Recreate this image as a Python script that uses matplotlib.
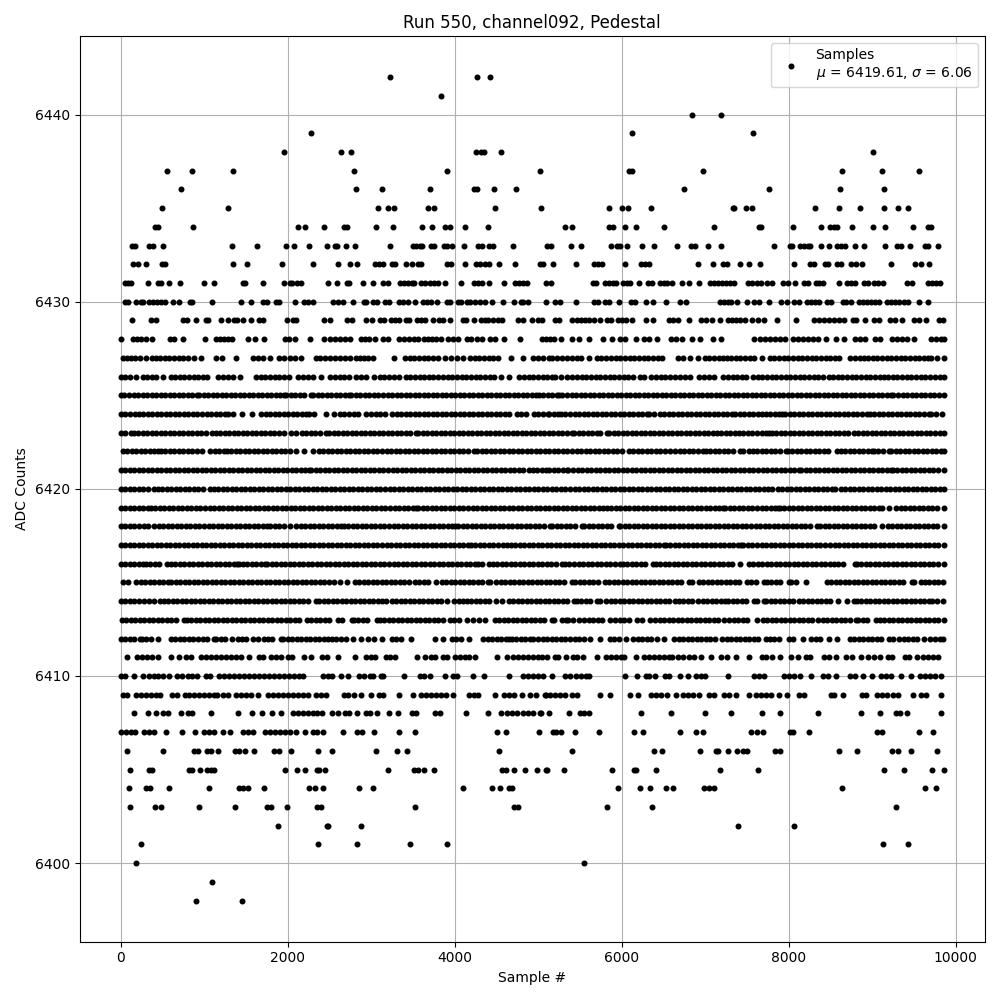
"""
Pedestal scatter for run 550, channel092.
Sample positions read off the plot, one list per ADC level.
"""
import matplotlib
matplotlib.use("Agg")
import matplotlib.pyplot as plt
import matplotlib.ticker as mticker

s_6442 = [3224, 4268, 4424]
s_6441 = [3836]
s_6440 = [6848, 7196]
s_6439 = [2276, 6128, 7580]
s_6438 = [1952, 2636, 2756, 4256, 4316, 4356, 4556, 9008]
s_6437 = [560, 860, 1340, 2792, 3908, 5024, 6088, 6120, 6980, 8636, 9116, 9560]
s_6436 = [728, 2816, 3128, 3704, 4228, 4272, 4472, 4736, 6752, 7760, 8612, 9140]
s_6435 = [500, 1280, 3080, 3200, 3272, 3680, 3752, 4484, 5040, 5852, 6008, 6080, 6356, 7340, 7352,
          7496, 7568, 8312, 8600, 8852, 9140, 9308, 9428]
s_6434 = [412, 444, 872, 2120, 2204, 2432, 2680, 2712, 3056, 3260, 3608, 3728, 3884, 3944, 4124, 4400,
          5324, 5408, 5852, 5900, 6044, 6176, 6512, 7112, 7640, 7668, 8048, 8384, 8492, 8540, 8576, 8756,
          9008, 9152, 9488, 9668, 9712]
s_6433 = [140, 172, 344, 392, 512, 1328, 1628, 1976, 2072, 2252, 2468, 2564, 2596, 2696, 2804, 3224,
          3500, 3540, 3588, 3612, 3716, 3748, 3872, 3908, 3968, 4108, 4280, 4324, 4412, 4460, 4700, 5108,
          5156, 5396, 5516, 5876, 5948, 5980, 6068, 6248, 6392, 6668, 6836, 6880, 7040, 7196, 7820, 8012,
          8036, 8132, 8180, 8228, 8260, 8384, 8480, 8576, 8624, 8672, 8792, 8908, 9152, 9296, 9344, 9452,
          9632, 9668, 9788]
s_6432 = [152, 212, 308, 500, 532, 1340, 1508, 1928, 2300, 2600, 2744, 2828, 3044, 3092, 3140, 3248,
          3284, 3416, 3488, 3560, 3600, 3908, 3956, 4124, 4252, 4300, 4364, 4412, 4532, 4724, 5028, 5060,
          5180, 5456, 5672, 5720, 5768, 6044, 6236, 6284, 6332, 6920, 7100, 7220, 7268, 7424, 7532, 7652,
          8060, 8252, 8300, 8432, 8468, 8576, 8624, 8744, 8804, 8876, 9224, 9512, 9584, 9680]
s_6431 = [48, 88, 128, 332, 452, 484, 584, 716, 992, 1112, 1460, 1488, 1700, 1952, 2024, 2048, 2108,
          2156, 2480, 2588, 2708, 2740, 2900, 3020, 3140, 3200, 3344, 3392, 3440, 3488, 3512, 3596, 3644,
          3704, 3752, 3800, 3884, 4072, 4232, 4280, 4328, 4412, 4592, 4724, 4772, 4820, 4868, 5096, 5156,
          5660, 5696, 5804, 5852, 5900, 5936, 6020, 6068, 6104, 6212, 6320, 6368, 6464, 6512, 6548, 6608,
          6728, 6812, 6932, 7064, 7112, 7160, 7208, 7256, 7304, 7352, 7520, 7568, 7616, 7664, 7736, 7796,
          7928, 7988, 8072, 8180, 8228, 8324, 8360, 8408, 8600, 8696, 8744, 8792, 8900, 8948, 9020, 9068,
          9128, 9416, 9476, 9668, 9716, 9764, 9812]
s_6430 = [48, 92, 188, 248, 272, 344, 392, 440, 488, 532, 632, 704, 836, 860, 1088, 1436, 1556, 1700,
          1748, 1860, 1892, 2084, 2192, 2240, 2300, 2540, 2600, 2660, 2780, 2912, 2940, 3028, 3068, 3164,
          3212, 3332, 3380, 3440, 3524, 3620, 3668, 3716, 3788, 3908, 3940, 4040, 4076, 4148, 4180, 4240,
          4300, 4360, 4448, 4580, 4712, 4796, 4820, 4880, 5100, 5208, 5268, 5456, 5672, 5720, 5804, 5852,
          5972, 6116, 6164, 6296, 6380, 6528, 6704, 6776, 7184, 7232, 7280, 7316, 7388, 7508, 7592, 7640,
          7760, 7904, 7976, 8060, 8120, 8216, 8264, 8312, 8360, 8456, 8504, 8648, 8684, 8744, 8840, 8888,
          8936, 8984, 9032, 9080, 9176, 9224, 9272, 9320, 9384, 9428, 9568, 9668]
s_6429 = [140, 368, 428, 752, 800, 908, 1016, 1040, 1196, 1280, 1352, 1388, 1460, 1556, 1652, 1700,
          1988, 2060, 2096, 2432, 2504, 2708, 2768, 2936, 3008, 3104, 3152, 3236, 3284, 3332, 3416, 3452,
          3548, 3596, 3644, 3740, 3812, 3860, 3940, 4100, 4140, 4232, 4316, 4364, 4400, 4460, 4520, 4568,
          4760, 4820, 4928, 5000, 5048, 5208, 5256, 5408, 5468, 5516, 5564, 5612, 5672, 5744, 5828, 5876,
          5960, 6008, 6056, 6128, 6296, 6380, 6572, 6620, 6680, 6812, 6956, 7016, 7088, 7184, 7280, 7328,
          7376, 7424, 7484, 7568, 7628, 7700, 7856, 8084, 8300, 8360, 8420, 8480, 8540, 8600, 8660, 8768,
          8804, 8912, 9020, 9080, 9212, 9272, 9356, 9500, 9560, 9644, 9800, 9848]
s_6428 = [8, 152, 200, 248, 300, 380, 596, 636, 752, 1004, 1136, 1184, 1232, 1280, 1328, 1520, 1608,
          1720, 1964, 2012, 2084, 2264, 2432, 2504, 2564, 2624, 2684, 2744, 2876, 2924, 2972, 3044, 3140,
          3200, 3332, 3392, 3452, 3512, 3560, 3632, 3680, 3728, 3776, 3836, 3920, 3980, 4040, 4148, 4196,
          4268, 4328, 4424, 4484, 4592, 4784, 5048, 5096, 5144, 5192, 5276, 5408, 5492, 5612, 5780, 5888,
          5984, 6044, 6176, 6272, 6332, 6428, 6596, 6656, 6728, 6848, 6936, 7100, 7196, 7592, 7652, 7712,
          7772, 7832, 7892, 7952, 8048, 8108, 8168, 8228, 8288, 8348, 8444, 8564, 8660, 8792, 8852, 8912,
          9032, 9092, 9236, 9296, 9356, 9416, 9500, 9704, 9764, 9824, 9856]
s_6427 = [24, 72, 124, 176, 236, 304, 376, 424, 476, 532, 584, 640, 696, 752, 808, 876, 960, 1144,
          1216, 1380, 1584, 1640, 1700, 1788, 1896, 1960, 2024, 2088, 2156, 2336, 2392, 2448, 2512, 2568,
          2632, 2688, 2752, 2816, 2864, 2920, 2968, 3020, 3272, 3404, 3460, 3516, 3576, 3628, 3680, 3744,
          3800, 3884, 3956, 4024, 4100, 4184, 4240, 4296, 4352, 4408, 4464, 4520, 4676, 4820, 4944, 5000,
          5060, 5136, 5172, 5232, 5288, 5344, 5404, 5460, 5516, 5604, 5700, 5756, 5812, 5872, 5928, 5984,
          6040, 6096, 6152, 6208, 6264, 6320, 6376, 6432, 6488, 6672, 6732, 6824, 6920, 6996, 7052, 7108,
          7164, 7220, 7268, 7312, 7368, 7424, 7480, 7536, 7588, 7676, 7772, 7828, 7884, 7940, 7996, 8052,
          8108, 8164, 8220, 8276, 8332, 8388, 8444, 8500, 8556, 8608, 8740, 8796, 8852, 8908, 8952, 9008,
          9064, 9120, 9176, 9232, 9288, 9344, 9400, 9456, 9512, 9568, 9624, 9668, 9712, 9784, 9860]
s_6426 = [4, 56, 108, 188, 264, 320, 376, 428, 508, 600, 656, 712, 764, 820, 876, 932, 984, 1028, 1164,
          1228, 1284, 1340, 1428, 1624, 1680, 1732, 1788, 1844, 1900, 1956, 2016, 2124, 2180, 2240, 2300,
          2396, 2512, 2568, 2624, 2680, 2736, 2816, 2884, 2940, 3036, 3104, 3160, 3216, 3272, 3328, 3416,
          3468, 3524, 3580, 3636, 3692, 3740, 3804, 3860, 3916, 3972, 4028, 4084, 4140, 4196, 4252, 4308,
          4364, 4420, 4476, 4556, 4652, 4776, 4832, 4888, 4944, 5000, 5056, 5112, 5168, 5204, 5276, 5352,
          5408, 5464, 5520, 5576, 5632, 5688, 5744, 5800, 5856, 5912, 5968, 6024, 6080, 6136, 6224, 6272,
          6356, 6412, 6468, 6524, 6580, 6644, 6704, 6760, 6816, 6932, 6992, 7048, 7112, 7220, 7276, 7332,
          7388, 7444, 7492, 7572, 7628, 7684, 7740, 7796, 7852, 7908, 7964, 8020, 8076, 8132, 8188, 8244,
          8300, 8356, 8412, 8484, 8532, 8588, 8644, 8700, 8756, 8812, 8868, 8924, 8980, 9036, 9092, 9144,
          9192, 9248, 9304, 9360, 9416, 9472, 9528, 9584, 9640, 9696, 9752, 9808, 9860]
s_6425 = [0, 36, 104, 160, 212, 268, 320, 376, 428, 484, 536, 588, 644, 696, 752, 804, 860, 916, 936,
          992, 1044, 1100, 1152, 1208, 1260, 1316, 1368, 1424, 1476, 1532, 1584, 1640, 1692, 1748, 1800,
          1856, 1908, 1956, 1984, 2040, 2092, 2148, 2200, 2276, 2304, 2360, 2412, 2468, 2520, 2576, 2628,
          2684, 2736, 2764, 2816, 2872, 2924, 2980, 3032, 3088, 3140, 3196, 3248, 3304, 3356, 3412, 3464,
          3520, 3572, 3628, 3680, 3736, 3788, 3844, 3896, 3952, 4004, 4060, 4112, 4168, 4220, 4276, 4328,
          4384, 4436, 4492, 4544, 4600, 4652, 4708, 4760, 4816, 4868, 4924, 4976, 5016, 5064, 5120, 5172,
          5224, 5252, 5292, 5344, 5400, 5452, 5508, 5560, 5616, 5668, 5724, 5776, 5832, 5884, 5940, 5992,
          6048, 6100, 6156, 6208, 6264, 6316, 6372, 6424, 6480, 6532, 6588, 6640, 6696, 6748, 6804, 6856,
          6912, 6964, 7020, 7072, 7128, 7180, 7236, 7288, 7344, 7396, 7452, 7504, 7560, 7612, 7668, 7720,
          7776, 7828, 7884, 7936, 7992, 8044, 8100, 8152, 8208, 8260, 8316, 8368, 8424, 8476, 8532, 8584,
          8640, 8692, 8748, 8800, 8856, 8908, 8964, 9016, 9072, 9124, 9180, 9224, 9256, 9312, 9368, 9420,
          9476, 9528, 9584, 9636, 9692, 9744, 9800, 9860]
s_6424 = [4, 56, 112, 176, 216, 272, 324, 380, 432, 488, 540, 596, 648, 704, 756, 812, 864, 920, 972,
          1028, 1080, 1136, 1188, 1244, 1280, 1344, 1456, 1576, 1676, 1736, 1788, 1844, 1896, 1952, 2004,
          2060, 2112, 2168, 2220, 2256, 2312, 2464, 2556, 2624, 2680, 2736, 2792, 2848, 2944, 3000, 3056,
          3112, 3168, 3248, 3304, 3360, 3412, 3468, 3520, 3576, 3628, 3684, 3736, 3792, 3844, 3900, 3952,
          4008, 4060, 4116, 4168, 4224, 4276, 4332, 4384, 4440, 4492, 4548, 4600, 4648, 4744, 4800, 4856,
          4956, 5004, 5060, 5116, 5136, 5192, 5236, 5272, 5328, 5380, 5436, 5488, 5544, 5596, 5652, 5704,
          5760, 5812, 5868, 5920, 5976, 6028, 6084, 6136, 6192, 6244, 6300, 6332, 6392, 6460, 6512, 6568,
          6620, 6676, 6728, 6784, 6836, 6892, 6944, 7000, 7052, 7108, 7160, 7216, 7268, 7324, 7364, 7420,
          7472, 7528, 7580, 7636, 7684, 7724, 7780, 7832, 7888, 7924, 7960, 8016, 8068, 8124, 8176, 8232,
          8284, 8340, 8392, 8448, 8500, 8556, 8608, 8664, 8716, 8772, 8824, 8880, 8944, 8972, 9028, 9080,
          9136, 9188, 9244, 9296, 9352, 9404, 9460, 9512, 9568, 9620, 9684, 9712, 9764, 9832]
s_6423 = [0, 52, 128, 156, 208, 264, 316, 372, 424, 480, 532, 588, 640, 696, 748, 804, 856, 912, 964,
          1020, 1096, 1136, 1192, 1244, 1300, 1352, 1408, 1460, 1516, 1568, 1624, 1676, 1732, 1784, 1840,
          1892, 1956, 2044, 2096, 2176, 2224, 2280, 2332, 2388, 2456, 2496, 2552, 2604, 2660, 2712, 2768,
          2820, 2876, 2928, 2984, 3036, 3092, 3144, 3200, 3252, 3308, 3360, 3416, 3468, 3536, 3564, 3620,
          3672, 3728, 3780, 3836, 3888, 3944, 3996, 4052, 4104, 4160, 4212, 4268, 4320, 4376, 4428, 4484,
          4536, 4592, 4644, 4700, 4752, 4808, 4860, 4916, 4968, 5024, 5076, 5132, 5184, 5240, 5292, 5348,
          5404, 5432, 5484, 5540, 5592, 5648, 5704, 5740, 5824, 5852, 5904, 5960, 6012, 6068, 6120, 6176,
          6228, 6284, 6336, 6392, 6444, 6500, 6552, 6608, 6660, 6716, 6768, 6824, 6876, 6932, 6984, 7040,
          7092, 7144, 7192, 7248, 7304, 7364, 7404, 7460, 7512, 7568, 7620, 7676, 7728, 7764, 7800, 7852,
          7908, 7960, 8016, 8068, 8124, 8176, 8232, 8284, 8340, 8392, 8448, 8500, 8556, 8608, 8664, 8716,
          8784, 8828, 8892, 8944, 9000, 9052, 9108, 9160, 9216, 9268, 9324, 9376, 9432, 9484, 9540, 9592,
          9648, 9700, 9756, 9808, 9860]
s_6422 = [24, 76, 132, 184, 240, 292, 348, 400, 448, 484, 536, 592, 644, 700, 752, 808, 860, 916, 976,
          1072, 1124, 1180, 1236, 1272, 1324, 1380, 1432, 1488, 1540, 1596, 1648, 1704, 1756, 1812, 1864,
          1920, 1972, 2028, 2096, 2200, 2300, 2376, 2428, 2484, 2536, 2592, 2644, 2700, 2752, 2808, 2860,
          2916, 2968, 3024, 3076, 3132, 3184, 3240, 3292, 3348, 3400, 3456, 3508, 3564, 3616, 3672, 3724,
          3780, 3832, 3888, 3940, 3996, 4048, 4104, 4156, 4236, 4272, 4324, 4380, 4432, 4488, 4540, 4596,
          4648, 4704, 4756, 4812, 4864, 4920, 4972, 5028, 5080, 5136, 5188, 5244, 5296, 5352, 5404, 5460,
          5512, 5568, 5620, 5676, 5728, 5784, 5836, 5892, 5944, 6004, 6084, 6136, 6192, 6244, 6300, 6352,
          6408, 6460, 6516, 6584, 6644, 6696, 6752, 6804, 6860, 6912, 6972, 7012, 7064, 7120, 7172, 7228,
          7280, 7336, 7424, 7460, 7532, 7572, 7624, 7680, 7732, 7788, 7840, 7896, 7964, 7992, 8044, 8100,
          8152, 8208, 8260, 8316, 8368, 8424, 8476, 8584, 8624, 8676, 8732, 8784, 8840, 8892, 8948, 9004,
          9024, 9076, 9132, 9204, 9232, 9284, 9340, 9392, 9448, 9500, 9556, 9608, 9664, 9716, 9772, 9824,
          9860]
s_6421 = [0, 52, 108, 160, 216, 268, 324, 376, 432, 484, 540, 592, 648, 700, 756, 808, 864, 916, 972,
          1024, 1080, 1132, 1188, 1240, 1296, 1348, 1404, 1456, 1512, 1564, 1620, 1672, 1728, 1780, 1836,
          1888, 1944, 1996, 2052, 2104, 2160, 2212, 2256, 2284, 2340, 2392, 2448, 2500, 2556, 2608, 2664,
          2716, 2772, 2824, 2880, 2932, 2988, 3040, 3096, 3148, 3204, 3256, 3312, 3364, 3420, 3472, 3528,
          3580, 3636, 3688, 3744, 3796, 3852, 3904, 3960, 4012, 4068, 4120, 4176, 4228, 4284, 4336, 4392,
          4444, 4500, 4552, 4608, 4660, 4716, 4768, 4824, 4896, 4936, 4988, 5044, 5096, 5136, 5192, 5244,
          5300, 5344, 5364, 5420, 5472, 5528, 5580, 5636, 5688, 5744, 5796, 5852, 5904, 5960, 6012, 6068,
          6120, 6176, 6228, 6284, 6336, 6392, 6444, 6500, 6552, 6608, 6660, 6716, 6768, 6824, 6876, 6932,
          6984, 7040, 7092, 7148, 7200, 7256, 7308, 7364, 7416, 7472, 7524, 7580, 7632, 7688, 7740, 7796,
          7848, 7904, 7956, 8012, 8064, 8124, 8152, 8208, 8260, 8316, 8368, 8424, 8476, 8532, 8584, 8640,
          8692, 8748, 8800, 8856, 8908, 8964, 9016, 9072, 9124, 9180, 9224, 9252, 9304, 9360, 9412, 9468,
          9520, 9576, 9628, 9684, 9736, 9792, 9860]
s_6420 = [0, 52, 108, 160, 216, 268, 324, 396, 444, 496, 552, 604, 660, 712, 768, 820, 876, 928, 984,
          1068, 1116, 1168, 1224, 1276, 1332, 1384, 1440, 1492, 1548, 1600, 1656, 1708, 1764, 1816, 1872,
          1924, 1980, 2032, 2088, 2140, 2196, 2248, 2304, 2356, 2412, 2464, 2520, 2572, 2628, 2680, 2736,
          2788, 2844, 2896, 2952, 3004, 3060, 3112, 3168, 3220, 3276, 3328, 3384, 3436, 3492, 3544, 3600,
          3652, 3708, 3760, 3816, 3868, 3924, 3976, 4032, 4084, 4140, 4192, 4248, 4300, 4356, 4408, 4464,
          4516, 4572, 4624, 4680, 4732, 4788, 4840, 4896, 4948, 5004, 5056, 5112, 5164, 5220, 5272, 5328,
          5380, 5436, 5488, 5544, 5596, 5652, 5704, 5760, 5812, 5868, 5920, 5976, 6028, 6084, 6136, 6192,
          6244, 6300, 6352, 6408, 6460, 6516, 6568, 6624, 6676, 6732, 6784, 6840, 6892, 6948, 7000, 7056,
          7108, 7164, 7216, 7272, 7324, 7380, 7432, 7488, 7540, 7596, 7648, 7704, 7752, 7804, 7872, 7924,
          7976, 8032, 8084, 8140, 8192, 8248, 8300, 8356, 8408, 8464, 8516, 8556, 8624, 8676, 8732, 8784,
          8840, 8892, 8948, 9000, 9056, 9108, 9164, 9216, 9272, 9324, 9380, 9432, 9488, 9540, 9596, 9648,
          9704, 9756, 9812, 9860]
s_6419 = [0, 52, 108, 160, 216, 268, 324, 364, 416, 472, 524, 580, 632, 688, 740, 796, 848, 904, 956,
          1012, 1064, 1120, 1172, 1228, 1280, 1336, 1388, 1444, 1496, 1552, 1604, 1660, 1712, 1768, 1820,
          1876, 1928, 1984, 2036, 2092, 2144, 2200, 2252, 2308, 2360, 2416, 2468, 2524, 2576, 2632, 2684,
          2740, 2792, 2848, 2900, 2956, 3008, 3064, 3116, 3172, 3224, 3280, 3332, 3388, 3440, 3496, 3536,
          3564, 3616, 3672, 3724, 3780, 3832, 3888, 3940, 3996, 4048, 4104, 4156, 4216, 4264, 4328, 4380,
          4432, 4484, 4540, 4592, 4648, 4700, 4756, 4808, 4864, 4916, 4972, 5024, 5080, 5132, 5188, 5240,
          5296, 5348, 5404, 5456, 5512, 5564, 5620, 5672, 5728, 5772, 5820, 5872, 5928, 5980, 6036, 6088,
          6144, 6196, 6252, 6304, 6360, 6412, 6468, 6520, 6576, 6628, 6684, 6736, 6792, 6844, 6900, 6952,
          7008, 7060, 7116, 7168, 7212, 7244, 7296, 7352, 7404, 7460, 7512, 7568, 7620, 7676, 7728, 7784,
          7836, 7876, 7892, 7944, 8000, 8052, 8108, 8160, 8216, 8268, 8324, 8376, 8432, 8484, 8540, 8592,
          8648, 8700, 8756, 8808, 8864, 8916, 8972, 9024, 9080, 9124, 9204, 9292, 9344, 9396, 9452, 9504,
          9560, 9612, 9668, 9720, 9776, 9860]
s_6418 = [0, 52, 108, 160, 216, 276, 332, 404, 456, 512, 564, 620, 672, 728, 780, 836, 888, 944, 996,
          1052, 1104, 1160, 1212, 1268, 1320, 1376, 1428, 1484, 1536, 1592, 1644, 1700, 1756, 1792, 1844,
          1896, 1952, 2028, 2104, 2156, 2212, 2264, 2320, 2372, 2428, 2480, 2536, 2588, 2636, 2676, 2728,
          2784, 2836, 2892, 2944, 3000, 3052, 3108, 3160, 3216, 3268, 3324, 3376, 3432, 3484, 3540, 3592,
          3648, 3700, 3756, 3816, 3864, 3916, 3972, 4008, 4044, 4096, 4152, 4204, 4260, 4312, 4368, 4420,
          4476, 4528, 4584, 4636, 4692, 4744, 4800, 4852, 4908, 4960, 5016, 5068, 5144, 5172, 5224, 5280,
          5332, 5388, 5440, 5524, 5552, 5604, 5660, 5712, 5768, 5820, 5876, 5964, 5984, 6036, 6092, 6144,
          6200, 6252, 6308, 6360, 6416, 6468, 6524, 6576, 6632, 6684, 6740, 6792, 6848, 6900, 6956, 7008,
          7064, 7116, 7172, 7224, 7280, 7332, 7388, 7440, 7496, 7548, 7604, 7656, 7712, 7764, 7820, 7872,
          7928, 7980, 8036, 8088, 8144, 8196, 8252, 8344, 8380, 8432, 8488, 8540, 8596, 8648, 8704, 8756,
          8812, 8864, 8920, 8972, 9028, 9116, 9192, 9244, 9300, 9352, 9408, 9460, 9516, 9568, 9624, 9676,
          9732, 9784, 9860]
s_6417 = [0, 52, 108, 160, 216, 268, 324, 376, 432, 484, 540, 592, 648, 700, 756, 808, 864, 916, 972,
          1024, 1080, 1132, 1188, 1240, 1296, 1348, 1404, 1456, 1512, 1564, 1620, 1672, 1728, 1780, 1836,
          1888, 1944, 1996, 2052, 2104, 2160, 2212, 2268, 2320, 2376, 2428, 2484, 2536, 2592, 2644, 2700,
          2752, 2808, 2860, 2916, 2968, 3024, 3076, 3132, 3184, 3240, 3292, 3348, 3400, 3456, 3508, 3564,
          3616, 3672, 3724, 3780, 3832, 3888, 3940, 3996, 4048, 4104, 4156, 4192, 4248, 4300, 4356, 4408,
          4464, 4516, 4576, 4628, 4672, 4724, 4780, 4832, 4888, 4940, 4996, 5048, 5104, 5156, 5212, 5264,
          5320, 5372, 5428, 5480, 5536, 5588, 5644, 5696, 5752, 5804, 5860, 5912, 5968, 6020, 6076, 6128,
          6184, 6236, 6292, 6344, 6400, 6452, 6504, 6532, 6584, 6640, 6692, 6748, 6800, 6856, 6908, 6964,
          7016, 7072, 7124, 7180, 7232, 7288, 7340, 7396, 7436, 7460, 7512, 7568, 7620, 7676, 7728, 7784,
          7836, 7892, 7944, 8000, 8052, 8108, 8160, 8216, 8268, 8324, 8376, 8432, 8492, 8556, 8608, 8664,
          8716, 8772, 8824, 8880, 8932, 8988, 9040, 9096, 9148, 9204, 9256, 9312, 9364, 9420, 9472, 9528,
          9580, 9636, 9688, 9744, 9796, 9860]
s_6416 = [0, 52, 108, 160, 216, 268, 304, 356, 412, 464, 556, 600, 652, 708, 760, 816, 868, 924, 976,
          1032, 1084, 1140, 1192, 1248, 1300, 1356, 1388, 1420, 1464, 1516, 1572, 1624, 1680, 1728, 1756,
          1808, 1864, 1916, 1972, 2024, 2080, 2132, 2188, 2240, 2296, 2348, 2404, 2456, 2512, 2564, 2620,
          2672, 2728, 2780, 2836, 2888, 2944, 2996, 3052, 3104, 3160, 3212, 3268, 3320, 3376, 3428, 3484,
          3536, 3592, 3644, 3700, 3752, 3808, 3860, 3916, 3968, 4024, 4076, 4132, 4184, 4240, 4276, 4324,
          4416, 4456, 4508, 4564, 4616, 4672, 4724, 4780, 4832, 4888, 4940, 4996, 5048, 5104, 5156, 5212,
          5292, 5324, 5376, 5432, 5484, 5540, 5592, 5648, 5700, 5756, 5808, 5864, 5916, 5984, 6012, 6064,
          6120, 6172, 6228, 6280, 6372, 6412, 6464, 6520, 6572, 6628, 6680, 6736, 6788, 6844, 6896, 6952,
          7004, 7060, 7112, 7168, 7220, 7276, 7328, 7416, 7524, 7576, 7632, 7684, 7740, 7792, 7848, 7900,
          7956, 8008, 8064, 8116, 8172, 8224, 8280, 8332, 8388, 8440, 8496, 8548, 8592, 8652, 8792, 8820,
          8872, 8928, 8980, 9036, 9088, 9144, 9196, 9252, 9304, 9360, 9412, 9468, 9520, 9576, 9628, 9684,
          9736, 9792, 9860]
s_6415 = [32, 84, 188, 244, 296, 352, 404, 460, 512, 564, 604, 660, 716, 768, 820, 876, 928, 984, 1036,
          1092, 1144, 1200, 1252, 1308, 1360, 1416, 1468, 1524, 1576, 1632, 1684, 1740, 1792, 1848, 1900,
          1956, 2008, 2064, 2116, 2172, 2224, 2280, 2332, 2388, 2440, 2496, 2556, 2632, 2716, 2808, 2856,
          2912, 2964, 3020, 3072, 3128, 3180, 3236, 3288, 3344, 3396, 3448, 3524, 3576, 3632, 3684, 3776,
          3844, 3896, 3952, 4004, 4060, 4112, 4168, 4220, 4276, 4328, 4396, 4424, 4496, 4556, 4608, 4664,
          4716, 4772, 4824, 4880, 4932, 4988, 5040, 5096, 5148, 5204, 5256, 5312, 5404, 5444, 5496, 5552,
          5604, 5660, 5712, 5804, 5852, 5904, 5960, 6012, 6068, 6120, 6176, 6228, 6284, 6336, 6392, 6444,
          6500, 6552, 6608, 6660, 6716, 6804, 6848, 6924, 6976, 7032, 7084, 7140, 7192, 7248, 7300, 7356,
          7408, 7504, 7552, 7604, 7704, 7740, 7792, 7848, 7900, 8004, 8032, 8084, 8204, 8460, 8512, 8568,
          8620, 8676, 8728, 8784, 8836, 8892, 8944, 9000, 9052, 9108, 9160, 9216, 9268, 9324, 9376, 9476,
          9500, 9584, 9632, 9684, 9744, 9792, 9852]
s_6414 = [0, 52, 108, 160, 216, 284, 344, 396, 476, 516, 568, 624, 676, 732, 784, 840, 892, 948, 1000,
          1056, 1108, 1164, 1216, 1272, 1324, 1380, 1432, 1488, 1540, 1596, 1648, 1704, 1756, 1812, 1864,
          1920, 1972, 2028, 2080, 2136, 2188, 2244, 2336, 2380, 2432, 2488, 2540, 2596, 2648, 2704, 2756,
          2812, 2864, 2920, 2972, 3028, 3080, 3136, 3176, 3244, 3296, 3352, 3404, 3460, 3512, 3568, 3620,
          3676, 3728, 3784, 3836, 3908, 3996, 4048, 4096, 4144, 4196, 4252, 4304, 4360, 4412, 4496, 4568,
          4652, 4704, 4760, 4812, 4868, 4920, 4976, 5028, 5084, 5136, 5192, 5244, 5300, 5352, 5432, 5464,
          5516, 5572, 5624, 5704, 5740, 5816, 5868, 5920, 5976, 6028, 6084, 6136, 6192, 6244, 6300, 6352,
          6408, 6460, 6516, 6568, 6644, 6684, 6736, 6792, 6844, 6916, 6972, 7024, 7080, 7132, 7188, 7236,
          7280, 7332, 7388, 7440, 7496, 7584, 7624, 7704, 7732, 7784, 7840, 7892, 7948, 8000, 8056, 8124,
          8168, 8232, 8284, 8340, 8392, 8448, 8500, 8596, 8700, 8784, 8820, 8872, 8928, 8980, 9036, 9088,
          9144, 9196, 9252, 9304, 9360, 9412, 9468, 9520, 9576, 9628, 9684, 9724, 9776, 9844]
s_6413 = [12, 64, 120, 172, 228, 280, 336, 388, 444, 496, 552, 604, 660, 756, 792, 844, 900, 952, 1008,
          1060, 1116, 1168, 1224, 1276, 1332, 1384, 1440, 1492, 1548, 1600, 1656, 1708, 1764, 1816, 1872,
          1924, 1980, 2032, 2088, 2140, 2236, 2284, 2336, 2392, 2444, 2500, 2608, 2652, 2768, 2792, 2844,
          2900, 2952, 3068, 3104, 3156, 3212, 3264, 3320, 3372, 3428, 3480, 3536, 3588, 3644, 3696, 3752,
          3804, 3860, 3948, 3996, 4048, 4148, 4224, 4288, 4368, 4484, 4536, 4592, 4644, 4700, 4752, 4808,
          4860, 4916, 4968, 5024, 5076, 5164, 5192, 5284, 5332, 5364, 5412, 5484, 5552, 5604, 5660, 5712,
          5768, 5864, 5924, 5976, 6032, 6084, 6184, 6244, 6344, 6404, 6456, 6512, 6564, 6620, 6672, 6728,
          6780, 6836, 6888, 6944, 6996, 7052, 7104, 7160, 7224, 7292, 7344, 7400, 7452, 7508, 7616, 7692,
          7744, 7800, 7852, 7908, 7960, 8016, 8068, 8124, 8176, 8232, 8284, 8356, 8412, 8464, 8520, 8572,
          8628, 8680, 8736, 8804, 8832, 8888, 8940, 9044, 9092, 9144, 9200, 9252, 9308, 9360, 9416, 9468,
          9524, 9576, 9632, 9684, 9740, 9792, 9860]
s_6412 = [4, 56, 112, 160, 228, 260, 308, 360, 444, 604, 656, 712, 764, 820, 872, 928, 980, 1036, 1116,
          1140, 1196, 1248, 1328, 1404, 1456, 1496, 1584, 1640, 1716, 1764, 1816, 1916, 1944, 2000, 2052,
          2108, 2160, 2216, 2268, 2324, 2376, 2432, 2484, 2536, 2580, 2640, 2700, 2780, 2876, 2964, 3036,
          3132, 3244, 3296, 3352, 3476, 3768, 3860, 3964, 4020, 4072, 4168, 4344, 4396, 4452, 4504, 4560,
          4612, 4656, 4684, 4740, 4792, 4848, 4904, 4944, 5000, 5056, 5112, 5168, 5220, 5276, 5328, 5384,
          5436, 5492, 5544, 5624, 5744, 5860, 5912, 5968, 6052, 6140, 6192, 6248, 6300, 6356, 6424, 6508,
          6632, 6684, 6740, 6792, 6848, 6900, 6956, 7008, 7064, 7116, 7204, 7260, 7312, 7368, 7420, 7476,
          7528, 7584, 7636, 7724, 7772, 7828, 7880, 8004, 8048, 8168, 8272, 8328, 8380, 8484, 8576, 8732,
          8784, 8840, 8892, 8948, 9000, 9056, 9108, 9204, 9256, 9324, 9380, 9432, 9488, 9540, 9624, 9700,
          9752, 9808, 9852]
s_6411 = [76, 200, 260, 320, 380, 452, 604, 704, 780, 840, 960, 1020, 1080, 1140, 1200, 1260, 1320,
          1380, 1440, 1532, 1660, 1700, 1800, 1860, 1920, 2000, 2052, 2200, 2280, 2412, 2472, 2604, 2808,
          2940, 3000, 3044, 3180, 3228, 3280, 3552, 3648, 3720, 3760, 3860, 3908, 4000, 4060, 4120, 4172,
          4244, 4508, 4628, 4700, 4760, 4820, 4880, 4940, 5000, 5048, 5108, 5200, 5240, 5336, 5420, 5468,
          5540, 5708, 5808, 5868, 5928, 5988, 6028, 6168, 6268, 6328, 6388, 6448, 6508, 6568, 6608, 6680,
          6736, 6808, 6868, 6948, 7076, 7188, 7260, 7368, 7528, 7680, 7728, 7800, 7896, 8024, 8108, 8208,
          8256, 8428, 8488, 8564, 8688, 8760, 8864, 8948, 9028, 9096, 9188, 9240, 9396, 9440, 9536, 9608,
          9668, 9728, 9788]
s_6410 = [0, 52, 164, 268, 340, 400, 452, 508, 584, 680, 740, 812, 860, 920, 1020, 1068, 1172, 1240,
          1300, 1360, 1420, 1480, 1540, 1600, 1660, 1720, 1780, 1840, 1900, 1960, 2020, 2080, 2140, 2188,
          2420, 2480, 2532, 2640, 2720, 2852, 2920, 2988, 3020, 3120, 3148, 3392, 3580, 3628, 3704, 3884,
          3980, 4028, 4220, 4352, 4656, 4820, 4880, 4940, 5000, 5060, 5164, 5328, 5388, 5448, 5508, 5568,
          5608, 6044, 6188, 6288, 6328, 6396, 6520, 6568, 6704, 6800, 6888, 6948, 7000, 7280, 7588, 7648,
          7708, 7948, 8008, 8068, 8136, 8268, 8416, 8468, 8564, 8736, 8792, 8888, 8996, 9108, 9168, 9228,
          9344, 9468, 9576, 9636, 9696, 9760, 9820]
s_6409 = [28, 80, 180, 240, 300, 360, 420, 468, 620, 672, 768, 820, 880, 940, 1000, 1060, 1120, 1148,
          1228, 1280, 1380, 1440, 1500, 1560, 1640, 1760, 1820, 1880, 1940, 2000, 2060, 2120, 2180, 2248,
          2340, 2400, 2460, 2680, 2720, 2800, 2880, 3000, 3092, 3140, 3332, 3500, 3600, 3660, 3720, 3780,
          3840, 3900, 3980, 4172, 4228, 4280, 4488, 4588, 4652, 4712, 4812, 4900, 4972, 5100, 5080, 5140,
          5200, 5260, 5320, 5408, 5468, 5744, 5856, 6104, 6200, 6356, 6416, 6476, 6548, 6656, 6740, 6800,
          6860, 6928, 7048, 7108, 7228, 7288, 7368, 7528, 7608, 7668, 7728, 7788, 7880, 7976, 8128, 8188,
          8508, 8548, 8652, 8880, 8928, 9056, 9116, 9176, 9248, 9308, 9488, 9588, 9648, 9828]
s_6408 = [164, 332, 428, 512, 572, 728, 812, 852, 1076, 1408, 1568, 1688, 1808, 1924, 2060, 2120, 2180,
          2240, 2300, 2348, 2408, 2528, 2600, 2688, 2740, 2828, 2940, 2988, 3068, 3212, 3320, 3484, 3540,
          3760, 3820, 4136, 4400, 4556, 4628, 4688, 4748, 4820, 4880, 4940, 5040, 5132, 5028, 5372, 5496,
          5548, 5608, 6236, 6596, 7004, 7316, 7676, 7892, 8348, 8864, 9092, 9288, 9340, 9416, 9820]
s_6407 = [0, 60, 120, 168, 280, 340, 404, 548, 740, 896, 1000, 1052, 1120, 1220, 1308, 1460, 1520, 1588,
          1728, 1788, 1848, 1908, 1968, 2028, 2100, 2204, 2300, 2348, 2420, 2660, 2828, 2892, 3032, 3332,
          3524, 4508, 4620, 5012, 5176, 5216, 5276, 5444, 5732, 6152, 6260, 6704, 6896, 6980, 7556, 7616,
          7688, 8016, 8048, 8240, 9056, 9116, 9560, 9728]
s_6406 = [80, 512, 880, 928, 1028, 1076, 1160, 1368, 1412, 1484, 1592, 1832, 1892, 2036, 2360, 2528,
          3056, 3308, 3428, 4532, 5408, 6392, 6488, 6944, 7128, 7160, 7280, 7388, 7460, 7508, 7832, 7892,
          8600, 8816, 9236, 9308, 9464, 9776]
s_6405 = [116, 340, 380, 820, 860, 956, 1028, 1076, 1120, 1964, 2108, 2204, 2348, 2380, 2452, 3200,
          3512, 3560, 3632, 3752, 4568, 4620, 4712, 4844, 4988, 5096, 5108, 5312, 5888, 6152, 6176, 6416,
          7184, 7628, 9140, 9380, 9716, 9860]
s_6404 = [104, 308, 356, 584, 1052, 1412, 1460, 1520, 1716, 2252, 2324, 2420, 2852, 3020, 4100, 4448,
          4544, 4652, 4688, 5960, 6224, 6344, 6536, 6620, 6992, 7048, 7104, 8636, 9632, 9764]
s_6403 = [116, 416, 488, 944, 1364, 1748, 1796, 1988, 2348, 2396, 3524, 4712, 4760, 5828, 6368, 9284]
s_6402 = [1880, 2468, 2484, 2876, 7400, 8060]
s_6401 = [248, 2360, 2828, 3464, 3908, 9128, 9428]
s_6400 = [188, 5552]
s_6399 = [1088]
s_6398 = [908, 1448]

adc_levels = list(range(6398, 6443))
samples_by_level = [
    s_6398, s_6399, s_6400, s_6401, s_6402, s_6403, s_6404, s_6405, s_6406,
    s_6407, s_6408, s_6409, s_6410, s_6411, s_6412, s_6413, s_6414, s_6415,
    s_6416, s_6417, s_6418, s_6419, s_6420, s_6421, s_6422, s_6423, s_6424,
    s_6425, s_6426, s_6427, s_6428, s_6429, s_6430, s_6431, s_6432, s_6433,
    s_6434, s_6435, s_6436, s_6437, s_6438, s_6439, s_6440, s_6441, s_6442,
]

x = []
y = []
for level, samples in zip(adc_levels, samples_by_level):
    x.extend(samples)
    y.extend([level] * len(samples))

fig, ax = plt.subplots(figsize=(10, 10))
ax.plot(x, y, "k.", ms=6.6, label="Samples\n$\\mu$ = 6419.61, $\\sigma$ = 6.06")
ax.set_xlabel("Sample #")
ax.set_ylabel("ADC Counts")
ax.set_title("Run 550, channel092, Pedestal")
ax.yaxis.set_major_formatter(mticker.FormatStrFormatter("%d"))
ax.grid(True)
ax.legend(loc="upper right")

fig.tight_layout()
# tight_layout leaves the top edge 2 px low here
fig.subplots_adjust(top=0.964)
fig.savefig("out.png", dpi=100)
plt.close(fig)
